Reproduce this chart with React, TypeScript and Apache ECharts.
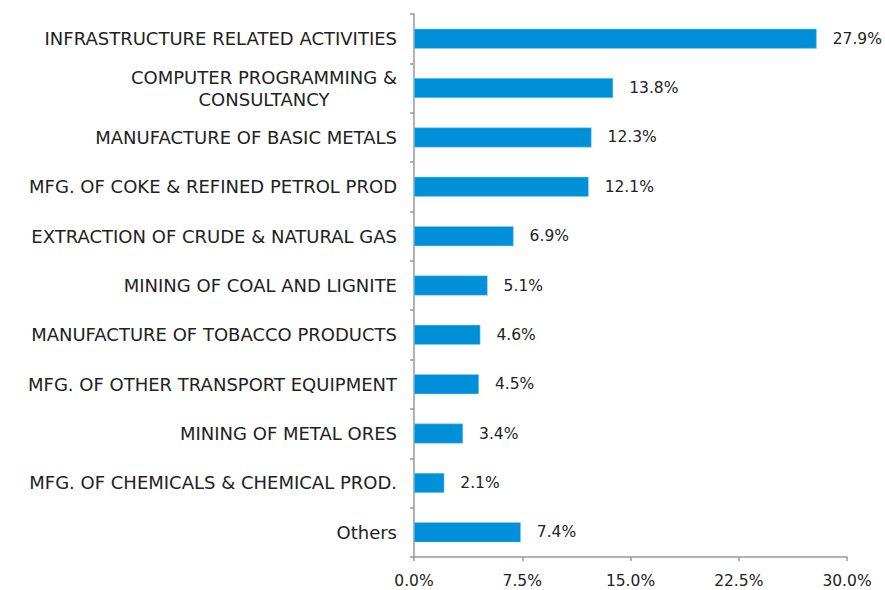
import React, { useEffect, useRef } from "react";
import * as echarts from "echarts";

const categories = [
  "INFRASTRUCTURE RELATED ACTIVITIES",
  "COMPUTER PROGRAMMING &\nCONSULTANCY",
  "MANUFACTURE OF BASIC METALS",
  "MFG. OF COKE & REFINED PETROL PROD",
  "EXTRACTION OF CRUDE & NATURAL GAS",
  "MINING OF COAL AND LIGNITE",
  "MANUFACTURE OF TOBACCO PRODUCTS",
  "MFG. OF OTHER TRANSPORT EQUIPMENT",
  "MINING OF METAL ORES",
  "MFG. OF CHEMICALS & CHEMICAL PROD.",
  "Others",
];
const values = [27.9, 13.8, 12.3, 12.1, 6.9, 5.1, 4.6, 4.5, 3.4, 2.1, 7.4];
const axisMin = 0;
const axisMax = 30;
const axisInterval = 7.5;

const FONT = "DejaVu Sans";
const FS = 15.5;
const CAT_FS = 18;

export default function App() {
  const ref = useRef<HTMLDivElement>(null);
  useEffect(() => {
    if (!ref.current) return;
    const chart = echarts.init(ref.current, undefined, { renderer: "svg" });
    chart.setOption({
      animation: false,
      grid: { left: 414, right: 38, top: 14, bottom: 33, containLabel: false },
      xAxis: {
        type: "value",
        min: axisMin,
        max: axisMax,
        interval: axisInterval,
        splitLine: { show: false },
        axisLine: { show: true, lineStyle: { color: "#999999", width: 1.5 } },
        axisTick: { show: true, length: 4, lineStyle: { color: "#999999", width: 1.5 } },
        axisLabel: {
          margin: 16,
          color: "#222222",
          fontFamily: FONT,
          fontSize: FS,
          formatter: (v: number) => v.toFixed(1) + "%",
        },
      },
      yAxis: {
        type: "category",
        data: categories,
        inverse: true,
        axisLine: { show: true, lineStyle: { color: "#999999", width: 1.5 } },
        axisTick: { show: true, length: 4, lineStyle: { color: "#999999", width: 1.5 } },
        axisLabel: {
          margin: 17,
          color: "#222222",
          fontFamily: FONT,
          fontSize: CAT_FS,
          lineHeight: 22,
          formatter: (v: string) =>
            v.indexOf("\n") >= 0
              ? v
                  .split("\n")
                  .map((s) => "{c|" + s + "}")
                  .join("\n")
              : v,
          rich: {
            c: {
              width: 266,
              align: "center",
              color: "#222222",
              fontFamily: FONT,
              fontSize: CAT_FS,
              lineHeight: 22,
            },
          },
        },
      },
      series: [
        {
          type: "bar",
          data: values,
          barWidth: 20,
          itemStyle: { color: "#0090da", borderColor: "#8fd0f0", borderWidth: 0.5 },
          label: {
            show: true,
            position: "right",
            distance: 16,
            color: "#222222",
            fontFamily: FONT,
            fontSize: FS,
            formatter: (p: any) => p.value.toFixed(1) + "%",
          },
        },
      ],
    });
    return () => chart.dispose();
  }, []);
  return <div ref={ref} style={{ width: 885, height: 590, position: "absolute", left: 0, top: 0 }} />;
}
